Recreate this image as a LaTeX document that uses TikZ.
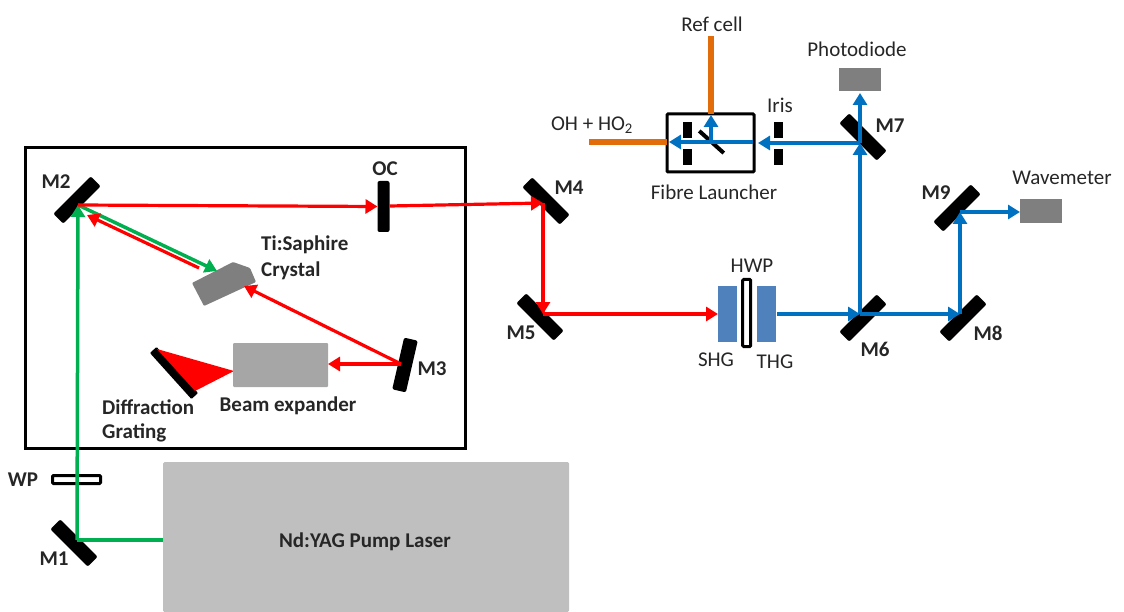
\documentclass[tikz,border=0pt]{standalone}
\usepackage{fontspec}
\setmainfont{Carlito}
\usetikzlibrary{arrows.meta}
\definecolor{cred}{HTML}{FF0000}
\definecolor{cgreen}{HTML}{00B050}
\definecolor{cblue}{HTML}{0070C0}
\definecolor{corange}{HTML}{E36C0A}
\definecolor{cgrey}{HTML}{7F7F7F}
\definecolor{csteel}{HTML}{4F81BD}
\tikzset{
  x=1pt,y=-1pt,
  mirror/.style={fill=black,rounded corners=2pt,minimum width=53pt,minimum height=14pt,inner sep=0pt,outer sep=0pt},
  bar/.style={fill=black,minimum width=9pt,minimum height=16pt,inner sep=0pt,outer sep=0pt},
  block/.style={inner sep=0pt,outer sep=0pt},
  tip/.style={-{Triangle[length=12pt,width=14pt]}},
  redbeam/.style={line width=3.2pt,cred},
  greenbeam/.style={line width=3.5pt,cgreen},
  bluebeam/.style={line width=3.8pt,cblue},
  fibre/.style={line width=5.5pt,corange},
  lab/.style={font=\fontsize{21}{23}\selectfont,inner sep=0pt,text=black!85,yshift=-1pt},
  blab/.style={font=\fontsize{21}{23}\selectfont\bfseries,inner sep=0pt,text=black!85,yshift=-1pt},
}
\begin{document}
\begin{tikzpicture}
\useasboundingbox (0,0) rectangle (1124,612);
% cavity box
\node[block,draw=black,line width=3pt,minimum width=440pt,minimum height=301pt] (cavity) at (245.5,298) {};
% pump laser
\node[block,fill=black!25,rounded corners=1.5pt,minimum width=406pt,minimum height=150pt] (pump) at (366,537) {};
\node[blab] (pumpl) at (365,540.5) {Nd:YAG Pump Laser};
% mirrors
\node[mirror,rotate=-45] (m1) at (74,543) {};
\node[mirror,rotate=45] (m2) at (77,200) {};
\node[mirror,rotate=77] (m3) at (405,365) {};
\node[mirror,rotate=-45] (m4) at (546,201) {};
\node[mirror,rotate=-45] (m5) at (540,317) {};
\node[mirror,rotate=45] (m6) at (863,318) {};
\node[mirror,rotate=-45] (m7) at (863,137) {};
\node[mirror,rotate=45] (m8) at (963,318) {};
\node[mirror,rotate=45] (m9) at (957,208) {};
\node[block,fill=black,rounded corners=2pt,minimum width=12pt,minimum height=51pt] (oc) at (383.5,206.5) {};
\node[block,fill=black,rounded corners=1pt,minimum width=62pt,minimum height=9pt,rotate=-48] (grating) at (174,373) {};
% grating beam fan
\path[fill=cred] (157,349) -- (234,371) -- (195,391) -- cycle;
% crystal and expander
\path[fill=cgrey,rounded corners=1pt] (192,283) -- (233,262) -- (250,268) -- (256,282) -- (204,306) -- cycle;
\node[block,fill=black!35,rounded corners=1pt,minimum width=95pt,minimum height=44pt] (expander) at (280.5,365) {};
% SHG HWP THG
\node[block,fill=csteel,minimum width=19pt,minimum height=56pt] (shg) at (727.5,314) {};
\node[block,fill=csteel,minimum width=19pt,minimum height=56pt] (thg) at (766.5,314) {};
\node[block,draw=black,fill=white,line width=3pt,rounded corners=1pt,minimum width=8pt,minimum height=67pt] (hwp) at (746.7,313) {};
% detectors
\node[block,fill=cgrey,minimum width=42pt,minimum height=23pt] (pd) at (860,79.5) {};
\node[block,fill=cgrey,minimum width=42pt,minimum height=24pt] (wm) at (1041,211) {};
% waveplate
\node[block,draw=black,fill=white,line width=3pt,rounded corners=1pt,minimum width=48pt,minimum height=8pt] (wp) at (76.5,479.5) {};
% fibre launcher
\node[block,draw=black,line width=3pt,rounded corners=1pt,minimum width=87pt,minimum height=58pt] (fl) at (710.5,143) {};
\node[bar] (flu) at (687.5,130.5) {};
\node[bar] (fll) at (687.5,157.5) {};
\node[block,fill=black,minimum width=33pt,minimum height=4pt,rotate=-42] (flm) at (711.5,142) {};
% iris
\node[bar] (iru) at (778,130.5) {};
\node[bar] (irl) at (778,157.5) {};
% beam hit points
\coordinate (hm1) at (77,540);
\coordinate (hm2) at (78,205);
\coordinate (hm2r) at (87,215);
\coordinate (hm4) at (543,203);
\coordinate (hm5) at (543,314);
\coordinate (hm6) at (860,314);
\coordinate (hm7) at (860,143);
\coordinate (hm8) at (960,314);
\coordinate (hm9) at (960,212);
\coordinate (hm3) at (401,364);
\coordinate (hflm) at (711,142);
\coordinate (fll0) at (589,142);
\coordinate (ref0) at (711,36);
\coordinate (cg) at (217,271);
\coordinate (cr) at (199,268);
\coordinate (cr2) at (244,286);
\coordinate (thgo) at (777,314);
\coordinate (iro) at (758,143);
\coordinate (flin) at (753,142);
\coordinate (flout) at (669,142);
\coordinate (flup) at (711,115);
% green
\draw[greenbeam] (pump.west |- hm1) -- (hm1);
\draw[greenbeam,tip] (hm1) -- (hm2);
\draw[greenbeam,tip] (hm2) -- (cg);
% red
\draw[redbeam,tip] (hm2) -- (oc.west |- 0,206.5);
\draw[redbeam,tip] (oc.east |- 0,206) -- (hm4);
\draw[redbeam,tip] (hm4) -- (hm5);
\draw[redbeam,tip] (hm5) -- (shg.west);
\draw[redbeam,tip] (cr) -- (hm2r);
\draw[redbeam,tip] (hm3) -- (cr2);
\draw[redbeam,tip] (hm3) -- (expander.east |- hm3);
% blue
\draw[bluebeam,tip] (thgo) -- (hm6);
\draw[bluebeam,tip] (hm6) -- (hm8);
\draw[bluebeam,tip] (hm8) -- (hm9);
\draw[bluebeam,tip] (hm9) -- (wm.west |- hm9);
\draw[bluebeam,tip] (hm6) -- (hm7);
\draw[bluebeam,tip] (hm7) -- (pd.south |- 0,93);
\draw[bluebeam,tip] (hm7) -- (iro);
\draw[bluebeam,tip] (flin) -- (flout);
\draw[bluebeam,tip] (hflm) -- (flup);
% fibres
\draw[fibre] (fl.north -| hflm) -- (ref0);
\draw[fibre] (fl.west |- fll0) -- (fll0);
% labels
\node[lab] (t1) at (712,23) {Ref cell};
\node[lab] (t2) at (857,48) {Photodiode};
\node[lab] (t3) at (780,104) {Iris};
\node[lab] (t4) at (592,124) {OH + HO\textsubscript{2}};
\node[lab] (t5) at (714,191) {Fibre Launcher};
\node[lab] (t6) at (752,265) {HWP};
\node[lab] (t7) at (716,359) {SHG};
\node[lab] (t8) at (775,361) {THG};
\node[lab] (t9) at (1062,177) {Wavemeter};
\node[blab] (l1) at (54,558) {M1};
\node[blab] (l2) at (56,181) {M2};
\node[blab] (l3) at (432,368) {M3};
\node[blab] (l4) at (569,187) {M4};
\node[blab] (l5) at (521,332) {M5};
\node[blab] (l6) at (875,348) {M6};
\node[blab] (l7) at (890,125) {M7};
\node[blab] (l8) at (988,332) {M8};
\node[blab] (l9) at (936,192) {M9};
\node[blab] (loc) at (385,168) {OC};
\node[blab] (lwp) at (23,479) {WP};
\node[blab,anchor=west] (lti) at (261,244) {Ti:Saphire};
\node[blab,anchor=west] (lcr) at (261,270) {Crystal};
\node[blab,anchor=west] (ldi) at (102,406) {Diffraction};
\node[blab,anchor=west] (lgr) at (102,432) {Grating};
\node[blab] (lbe) at (288,405) {Beam expander};
\end{tikzpicture}
\end{document}
